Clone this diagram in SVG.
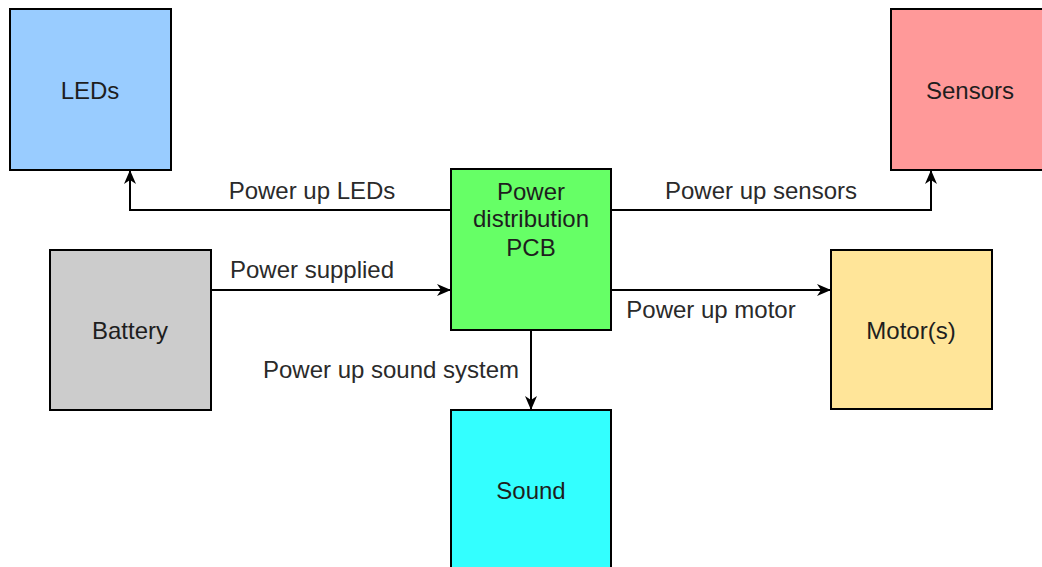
<svg xmlns="http://www.w3.org/2000/svg" width="1042" height="567" viewBox="0 0 1042 567">
<style>
.box{stroke:#000;stroke-width:2}
.nt{font-family:"Liberation Sans",Arial,sans-serif;font-size:24px;fill:#1e1e1e;text-anchor:middle;dominant-baseline:central}
.lb{font-family:"Liberation Sans",Arial,sans-serif;font-size:24px;fill:#2a2a2a;text-anchor:middle}
.ed{fill:none;stroke:#000;stroke-width:2}
</style>
<defs>
<marker id="arr" viewBox="0 0 14 12" refX="13" refY="6" markerWidth="14" markerHeight="12" markerUnits="userSpaceOnUse" orient="auto">
<path d="M0,0 L14,6 L0,12 L4,6 Z" fill="#000"/>
</marker>
</defs>
<rect width="1042" height="567" fill="#fff"/>
<g id="connectors">
<path class="ed" d="M451,210 H130 V171" marker-end="url(#arr)"/>
<path class="ed" d="M211,290 H450" marker-end="url(#arr)"/>
<path class="ed" d="M611,210 H931 V171" marker-end="url(#arr)"/>
<path class="ed" d="M611,290 H830" marker-end="url(#arr)"/>
<path class="ed" d="M531,330 V409" marker-end="url(#arr)"/>
<text class="lb" x="312" y="199">Power up LEDs</text>
<text class="lb" x="312" y="278">Power supplied</text>
<text class="lb" x="761" y="199">Power up sensors</text>
<text class="lb" x="711" y="318">Power up motor</text>
<text class="lb" x="391" y="378">Power up sound system</text>
</g>
<g id="leds"><rect class="box" x="10" y="9" width="161" height="161" fill="#99CCFF"/><text class="nt" x="90" y="90">LEDs</text></g>
<g id="sensors"><rect class="box" x="891" y="9" width="160" height="161" fill="#FF9999"/><text class="nt" x="970" y="90">Sensors</text></g>
<g id="battery"><rect class="box" x="50" y="250" width="161" height="160" fill="#CCCCCC"/><text class="nt" x="130" y="330">Battery</text></g>
<g id="pcb"><rect class="box" x="451" y="169" width="160" height="161" fill="#66FF66"/>
<text class="nt" x="531" y="191">Power</text><text class="nt" x="531" y="218">distribution</text><text class="nt" x="531" y="247">PCB</text></g>
<g id="motor"><rect class="box" x="831" y="250" width="161" height="159" fill="#FFE599"/><text class="nt" x="911" y="330">Motor(s)</text></g>
<g id="sound"><rect class="box" x="451" y="410" width="160" height="170" fill="#33FFFF"/><text class="nt" x="531" y="490">Sound</text></g>
</svg>
